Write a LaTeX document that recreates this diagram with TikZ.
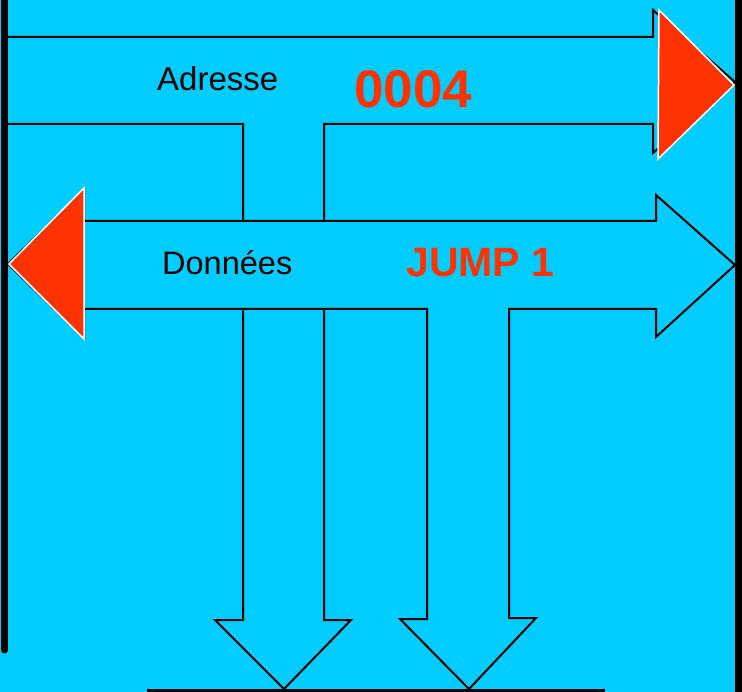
\documentclass[tikz,border=0pt]{standalone}
\usepackage{fontspec}
\setmainfont{Liberation Sans}
\definecolor{buscyan}{HTML}{00CCFF}
\definecolor{tipred}{HTML}{FF3300}
\begin{document}
\begin{tikzpicture}[x=1pt,y=-1pt,
    bus/.style={fill=buscyan,draw=black,line width=2,line join=miter},
    tipmark/.style={fill=tipred,draw=white,line width=1.5,line join=miter},
    wall/.style={draw=black,line width=7},
    lbl/.style={anchor=base west,inner sep=0pt,text=black},
    val/.style={anchor=base west,inner sep=0pt,text=tipred,font=\bfseries}]
  \fill[buscyan] (0,0) rectangle (742,692);
  \useasboundingbox (0,0) rectangle (742,692);
  % address bus
  \draw[bus] (4,37) -- (653,37) -- (653,10) -- (735,82) -- (653,153)
    -- (653,124) -- (324,124) -- (324,620) -- (351,620) -- (284,689)
    -- (215,620) -- (243,620) -- (243,124) -- (4,124);
  % data bus
  \draw[bus] (84,221) -- (656,221) -- (656,195) -- (735,265) -- (656,337)
    -- (656,309) -- (509,309) -- (509,618) -- (536,618) -- (469,689)
    -- (400,619) -- (427,619) -- (427,309) -- (84,309) -- (84,338)
    -- (8,264) -- (84,190) -- cycle;
  % active ends
  \draw[tipmark] (659,10) -- (734,85) -- (658,159) -- cycle;
  \draw[tipmark] (84,188) -- (9,264) -- (84,339) -- cycle;
  % walls
  \draw[wall,line cap=round] (4.5,-5) -- (4.5,650);
  \draw[wall] (738.5,0) -- (738.5,692);
  \draw[wall] (147,692) -- (605,692);
  % labels
  \node[lbl,font=\fontsize{33}{40}\selectfont] (adr) at (157,91) {Adresse};
  \node[val,font=\fontsize{53}{60}\selectfont\bfseries] (adrval) at (354,108) {0004};
  \node[lbl,font=\fontsize{32.5}{40}\selectfont] (don) at (162,275) {Données};
  \node[val,font=\fontsize{41}{48}\selectfont\bfseries] (donval) at (406,277) {JUMP 1};
\end{tikzpicture}
\end{document}
